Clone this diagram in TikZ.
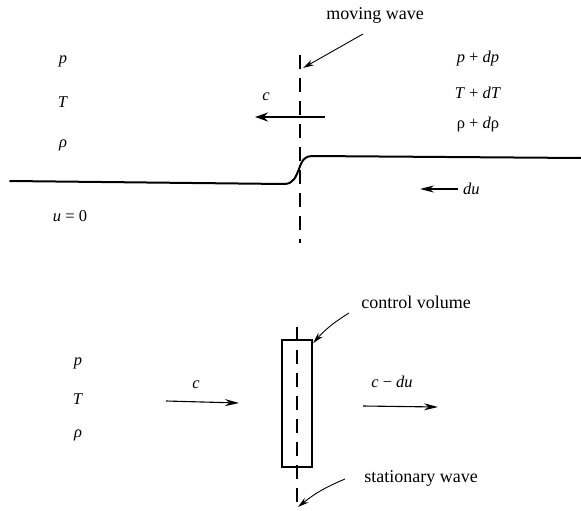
\documentclass[tikz,border=0pt]{standalone}
\usepackage{fontspec}
\setmainfont{Liberation Serif}
\usetikzlibrary{arrows.meta}
\begin{document}
\begin{tikzpicture}[x=1pt,y=-1pt,
  lbl/.style={font=\fontsize{16.5}{19}\selectfont, inner sep=0pt},
  txt/.style={font=\fontsize{18}{21}\selectfont, inner sep=0pt},
  wave/.style={line width=1.9pt, dash pattern=on 14pt off 9pt},
  curve/.style={line width=2pt, line cap=round, line join=round},
  leader/.style={line width=0.9pt, -{Stealth[length=11pt,width=6pt]}},
  flow/.style={line width=1.1pt, -{Stealth[length=14pt,width=7pt]}},
  bigflow/.style={line width=2.8pt, -{Stealth[length=13pt,width=9pt]}},
  cvbox/.style={draw, line width=2.4pt}]
\useasboundingbox (0,0) rectangle (581,511);

% ---------- top: moving wave ----------
\coordinate (wt) at (300,55);
\coordinate (wb) at (300,243);
\draw[wave] (wt) -- (wb);
\node[txt] (mw) at (375,15) {moving wave};
\coordinate (mwtip) at (303,68);
\draw[leader] (363,34) -- (mwtip);

\node[lbl] (p1) at (63,61) {\textit{p}};
\node[lbl] (T1) at (63,102) {\textit{T}};
\node[lbl] (r1) at (63,145) {\textit{ρ}};
\node[lbl] (u0) at (70,216) {\textit{u} = 0};

\node[lbl] (p2) at (478,59) {\textit{p} + \textit{dp}};
\node[lbl] (T2) at (478,93) {\textit{T} + \textit{dT}};
\node[lbl] (r2) at (478,125) {ρ + \textit{d}ρ};

\node[lbl] (cl) at (266,97) {\textit{c}};
\coordinate (cs) at (325,117);
\coordinate (ce) at (255,117);
\draw[bigflow] (cs) -- (ce);

\node[lbl,anchor=west] (du) at (463,189) {\textit{du}};
\coordinate (dus) at (458,189);
\coordinate (due) at (420,189);
\draw[flow] (dus) -- (due);

\coordinate (l0) at (10,181);
\coordinate (l1) at (284,184);
\coordinate (l2) at (312,156);
\coordinate (l3) at (581,158);
\draw[curve] (l0) -- (l1) .. controls (294,184) and (296,176) .. (299,169)
  .. controls (302,160) and (305,156) .. (l2) -- (l3);

% ---------- bottom: stationary wave ----------
\node[cvbox, minimum width=30pt, minimum height=127pt, inner sep=0pt] (cv) at (297,403.5) {};
\coordinate (st) at (297,327);
\coordinate (sb) at (297,511);
\draw[wave] (st) -- (sb);

\node[txt] (cvl) at (416,302) {control volume};
\draw[leader] (349,313) to[bend right=8] (cv.north east |- 0,343);

\node[txt] (swl) at (421,478) {stationary wave};
\coordinate (swtip) at (298,507);
\draw[leader] (345,479) to[bend right=8] (swtip);

\node[lbl] (p3) at (78,363) {\textit{p}};
\node[lbl] (T3) at (78,399) {\textit{T}};
\node[lbl] (r3) at (78,435) {\textit{ρ}};

\node[lbl] (c2) at (196,385) {\textit{c}};
\coordinate (c2s) at (166,401);
\coordinate (c2e) at (239,403);
\draw[flow] (c2s) -- (c2e);

\node[lbl] (cdu) at (392,382) {\textit{c} − \textit{du}};
\coordinate (c3s) at (363,406);
\coordinate (c3e) at (438,407);
\draw[flow] (c3s) -- (c3e);
\end{tikzpicture}
\end{document}
